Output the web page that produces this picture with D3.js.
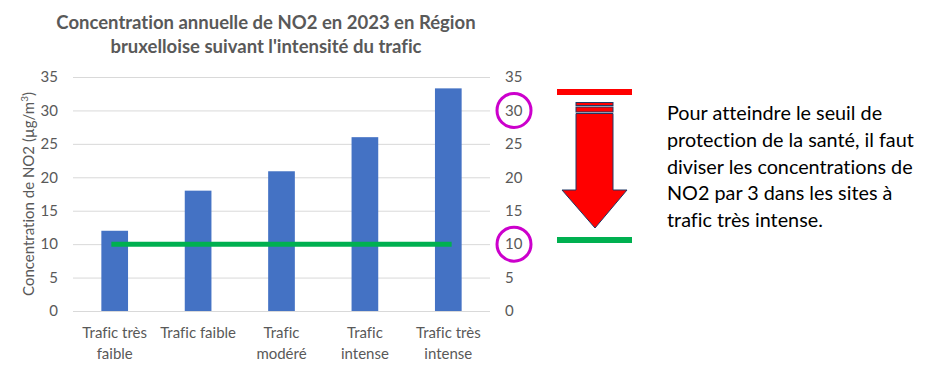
<!DOCTYPE html>
<html>
<head>
<meta charset="utf-8">
<script src="https://cdn.jsdelivr.net/npm/d3@7"></script>
<style>
  body { margin: 0; background: #fff; }
  svg { display: block; font-family: Lato, "Open Sans", sans-serif; font-variant-ligatures: none; }
</style>
</head>
<body>
<svg id="chart" width="945" height="372"></svg>
<script>
const categories = [
  ["Trafic très", "faible"],
  ["Trafic faible"],
  ["Trafic", "modéré"],
  ["Trafic", "intense"],
  ["Trafic très", "intense"]
]
const no2Values = [12, 18, 20.9, 26, 33.3]
const seuil = 10
const yTicks = [0, 5, 10, 15, 20, 25, 30, 35]
const circledTicks = [30, 10]
const titleLines = ["Concentration annuelle de NO2 en 2023 en Région", "bruxelloise suivant l'intensité du trafic"]
const noteLines = [
  "Pour atteindre le seuil de",
  "protection de la santé, il faut",
  "diviser les concentrations de",
  "NO2 par 3 dans les sites à",
  "trafic très intense."
]

;(function() {
  const svg = d3.select('#chart')
  const grey = '#595959'

  const
    plotLeft = 73,
    plotRight = 490,
    plotTop = 77,
    plotBottom = 311

  const x = d3.scaleBand()
    .domain(d3.range(categories.length))
    .range([plotLeft, plotRight])
    .paddingInner(0.68)
    .paddingOuter(0.34)

  const y = d3.scaleLinear().domain([0, 35]).range([plotBottom, plotTop])

  // title
  svg.append('g').selectAll('text')
    .data(titleLines)
    .enter().append('text')
    .attr('x', 266)
    .attr('y', (d, i) => 29 + i * 24)
    .attr('text-anchor', 'middle')
    .attr('font-size', 18.5)
    .attr('font-weight', 'bold')
    .attr('fill', grey)
    .text(d => d)

  // gridlines
  svg.append('g').selectAll('line')
    .data(yTicks)
    .enter().append('line')
    .attr('x1', plotLeft).attr('x2', plotRight)
    .attr('y1', d => y(d) + 0.5).attr('y2', d => y(d) + 0.5)
    .attr('stroke', '#d9d9d9')

  // left and right axes (labels only)
  const leftAxis = svg.append('g')
    .attr('transform', `translate(${plotLeft - 15},0)`)
    .call(d3.axisLeft(y).tickValues(yTicks).tickSize(0).tickPadding(0))
  const rightAxis = svg.append('g')
    .attr('transform', `translate(${plotRight + 15},0)`)
    .call(d3.axisRight(y).tickValues(yTicks).tickSize(0).tickPadding(0))
  ;[leftAxis, rightAxis].forEach(a => {
    a.select('.domain').remove()
    a.selectAll('text')
      .attr('font-family', 'Lato, "Open Sans", sans-serif')
      .attr('font-size', 15)
      .attr('fill', grey)
  })

  // y title
  const yt = svg.append('text')
    .attr('transform', `translate(34,${(plotTop + plotBottom) / 2}) rotate(-90)`)
    .attr('text-anchor', 'middle')
    .attr('font-size', 15)
    .attr('fill', grey)
  yt.append('tspan').text('Concentration de NO2 (µg/m')
  yt.append('tspan').attr('font-size', 10).attr('dy', -6).text('3')
  yt.append('tspan').attr('dy', 6).text(')')

  // bars
  svg.append('g').selectAll('rect')
    .data(no2Values)
    .enter().append('rect')
    .attr('x', (d, i) => x(i))
    .attr('width', x.bandwidth())
    .attr('y', d => y(d))
    .attr('height', d => y(0) - y(d))
    .attr('fill', '#4472c4')

  // x labels
  const xl = svg.append('g').selectAll('text')
    .data(categories)
    .enter().append('text')
    .attr('text-anchor', 'middle')
    .attr('font-size', 15)
    .attr('fill', grey)
  xl.selectAll('tspan')
    .data((d, i) => d.map(t => ({ t, i })))
    .enter().append('tspan')
    .attr('x', d => x(d.i) + x.bandwidth() / 2)
    .attr('y', (d, j) => 338 + j * 21)
    .text(d => d.t)

  // threshold line
  svg.append('line')
    .attr('x1', x(0) + 10)
    .attr('x2', x(categories.length - 1) + x.bandwidth() - 10)
    .attr('y1', y(seuil)).attr('y2', y(seuil))
    .attr('stroke', '#00b050')
    .attr('stroke-width', 5)

  // circled ticks
  svg.append('g').selectAll('circle')
    .data(circledTicks)
    .enter().append('circle')
    .attr('cx', plotRight + 24)
    .attr('cy', d => y(d))
    .attr('r', 17)
    .attr('fill', 'none')
    .attr('stroke', '#cc00cc')
    .attr('stroke-width', 3)

  // annotation: red / green bars and arrow
  svg.append('rect').attr('x', 557).attr('y', 89).attr('width', 75).attr('height', 6).attr('fill', '#ff0000')
  svg.append('rect').attr('x', 557).attr('y', 237).attr('width', 75).attr('height', 6).attr('fill', '#00b050')

  const arrow = svg.append('g').attr('stroke', '#203864').attr('stroke-width', 1).attr('fill', '#ff0000')
  arrow.append('rect').attr('x', 576).attr('y', 102.5).attr('width', 37).attr('height', 3)
  arrow.append('rect').attr('x', 576).attr('y', 107).attr('width', 37).attr('height', 5)
  arrow.append('path')
    .attr('d', 'M576,113.5 L613,113.5 L613,190 L627,190 L595,228 L562,190 L576,190 Z')

  // note
  svg.append('g').selectAll('text')
    .data(noteLines)
    .enter().append('text')
    .attr('x', 667)
    .attr('y', (d, i) => 120 + i * 26.8)
    .attr('font-size', 19.8)
    .attr('fill', '#000')
    .text(d => d)
})()
</script>
</body>
</html>
